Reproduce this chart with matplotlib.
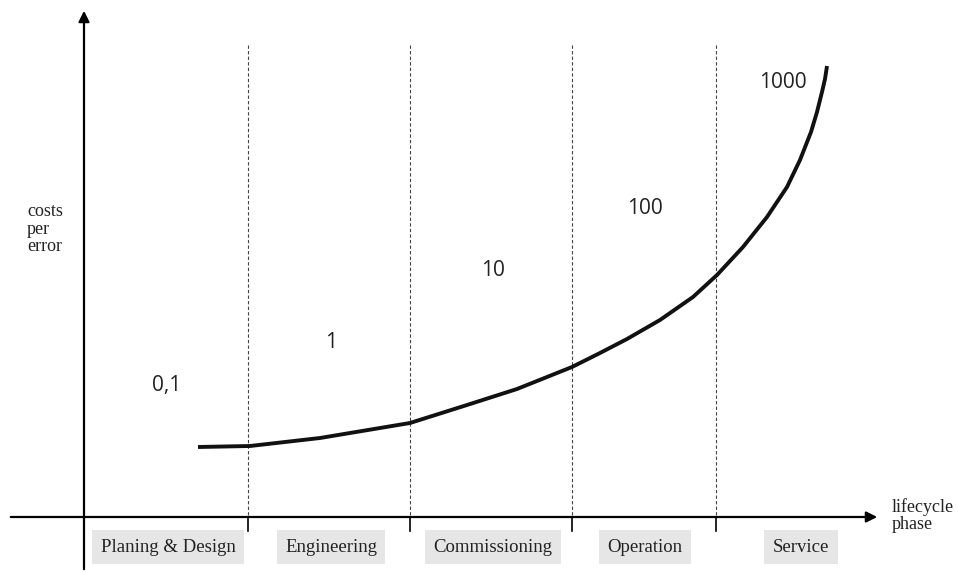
import matplotlib.pyplot as plt

# phase boundaries (dashed lines) and phase names
boundaries = [248, 410, 572, 716]
phases = ["Planing & Design", "Engineering", "Commissioning", "Operation", "Service"]
phase_x = [168, 331, 493, 645, 801]

# cost factor per phase
costs = ["0,1", "1", "10", "100", "1000"]
cost_x = [167, 331, 493, 645, 783]
cost_y = [386, 342, 271, 208, 83]

# curve (pixel coordinates, y downwards)
curve_x = [198, 250, 320, 410, 467, 517, 572, 600, 627, 660, 693, 717, 743, 767, 787, 800, 811, 817, 822, 825, 827]
curve_y = [447, 446, 438, 423, 405, 389, 367, 353, 339, 320, 297, 275, 247, 217, 187, 160, 132, 112, 92, 79, 66]

axis_y = 517
axis_x = 84

fig = plt.figure(figsize=(9.59, 5.72), dpi=100)
ax = fig.add_axes([0, 0, 1, 1])
ax.set_xlim(0, 959)
ax.set_ylim(572, 0)
ax.axis("off")

# axes with arrows
ax.annotate("", xy=(880, axis_y), xytext=(8, axis_y),
            arrowprops=dict(arrowstyle="-|>", lw=1.6, color="black", mutation_scale=16))
ax.annotate("", xy=(axis_x, 8), xytext=(axis_x, 572),
            arrowprops=dict(arrowstyle="-|>", lw=1.6, color="black", mutation_scale=16))

for b in boundaries:
    ax.plot([b, b], [45, axis_y], color="#444444", lw=0.8, linestyle=(0, (3, 2)))
    ax.plot([b, b], [axis_y, 531], color="black", lw=1.2)

ax.plot(curve_x, curve_y, color="#111111", lw=2.8, solid_capstyle="butt", solid_joinstyle="round")

for t, x, y in zip(costs, cost_x, cost_y):
    ax.text(x, y, t, fontsize=15, family="Open Sans", ha="center", va="center", color="#222222")

for p, x in zip(phases, phase_x):
    ax.text(x, 547, p, fontsize=13.5, family="Liberation Serif", ha="center", va="center",
            color="#222222",
            bbox=dict(boxstyle="square,pad=0.45", fc="#e6e6e6", ec="none"))

ax.text(27, 229, "costs\nper\nerror", fontsize=13, family="Liberation Serif",
        ha="left", va="center", linespacing=1.05, color="#222222")
ax.text(892, 516, "lifecycle\nphase", fontsize=13, family="Liberation Serif",
        ha="left", va="center", linespacing=1.0, color="#222222")

fig.savefig("out.png", dpi=100)
